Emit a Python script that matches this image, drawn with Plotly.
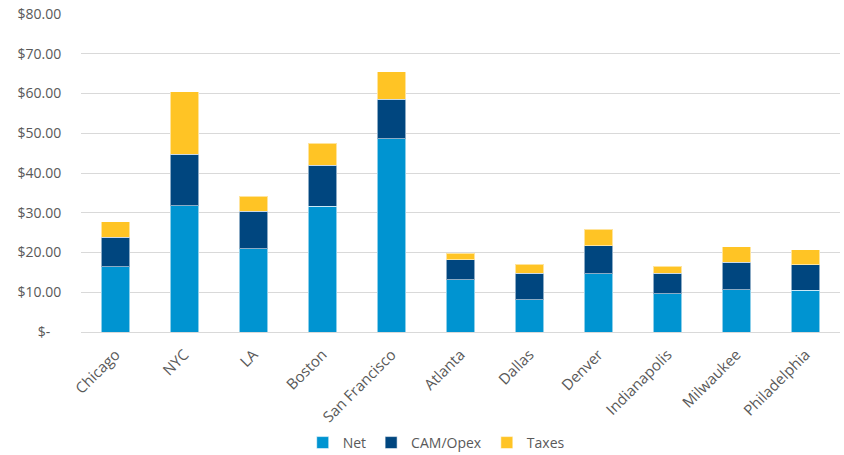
import plotly.graph_objects as go

cities = ["Chicago", "NYC", "LA", "Boston", "San Francisco", "Atlanta",
          "Dallas", "Denver", "Indianapolis", "Milwaukee", "Philadelphia"]
net = [16.4, 31.8, 20.9, 31.6, 48.6, 13.1, 8.1, 14.6, 9.6, 10.6, 10.5]
cam_opex = [7.5, 12.9, 9.5, 10.3, 10.0, 5.1, 6.7, 7.1, 5.2, 7.0, 6.4]
taxes = [3.8, 15.8, 3.7, 5.6, 6.9, 1.6, 2.3, 4.1, 1.7, 3.8, 3.8]

tick_vals = [0, 10, 20, 30, 40, 50, 60, 70, 80]
tick_text = ["$-\u00a0\u00a0\u00a0", "$10.00", "$20.00", "$30.00", "$40.00",
             "$50.00", "$60.00", "$70.00", "$80.00"]

font_family = "'Open Sans', sans-serif"
text_color = "#595959"
edge = dict(color="rgba(255,255,255,0.55)", width=1)

fig = go.Figure()
fig.add_trace(go.Bar(name="Net", x=cities, y=net,
                     marker=dict(color="#0094D1", line=edge)))
fig.add_trace(go.Bar(name="CAM/Opex", x=cities, y=cam_opex,
                     marker=dict(color="#00467F", line=edge)))
fig.add_trace(go.Bar(name="Taxes", x=cities, y=taxes,
                     marker=dict(color="#FFC425", line=edge)))

fig.update_layout(
    barmode="stack",
    bargap=0.59,
    width=844,
    height=455,
    margin=dict(l=81, r=4, t=14, b=123, autoexpand=False),
    paper_bgcolor="white",
    plot_bgcolor="white",
    font=dict(family=font_family, size=14, color=text_color),
    legend=dict(orientation="h", x=0.468, xanchor="center", y=-0.349,
                yanchor="middle", font=dict(size=14, color=text_color),
                itemwidth=30, traceorder="normal"),
    xaxis=dict(tickangle=-45, showgrid=False, showline=True,
               linecolor="#d9d9d9", linewidth=1, ticks="outside",
               ticklen=7, tickcolor="rgba(0,0,0,0)", automargin=False,
               tickfont=dict(size=15, color=text_color)),
    yaxis=dict(range=[0, 80], tickvals=tick_vals, ticktext=tick_text,
               showgrid=True, gridcolor="#d9d9d9", gridwidth=1,
               zeroline=False, showline=False, automargin=False,
               ticks="outside", ticklen=16, tickcolor="rgba(0,0,0,0)",
               tickfont=dict(size=14, color=text_color)),
)

fig.write_html("out.html")
